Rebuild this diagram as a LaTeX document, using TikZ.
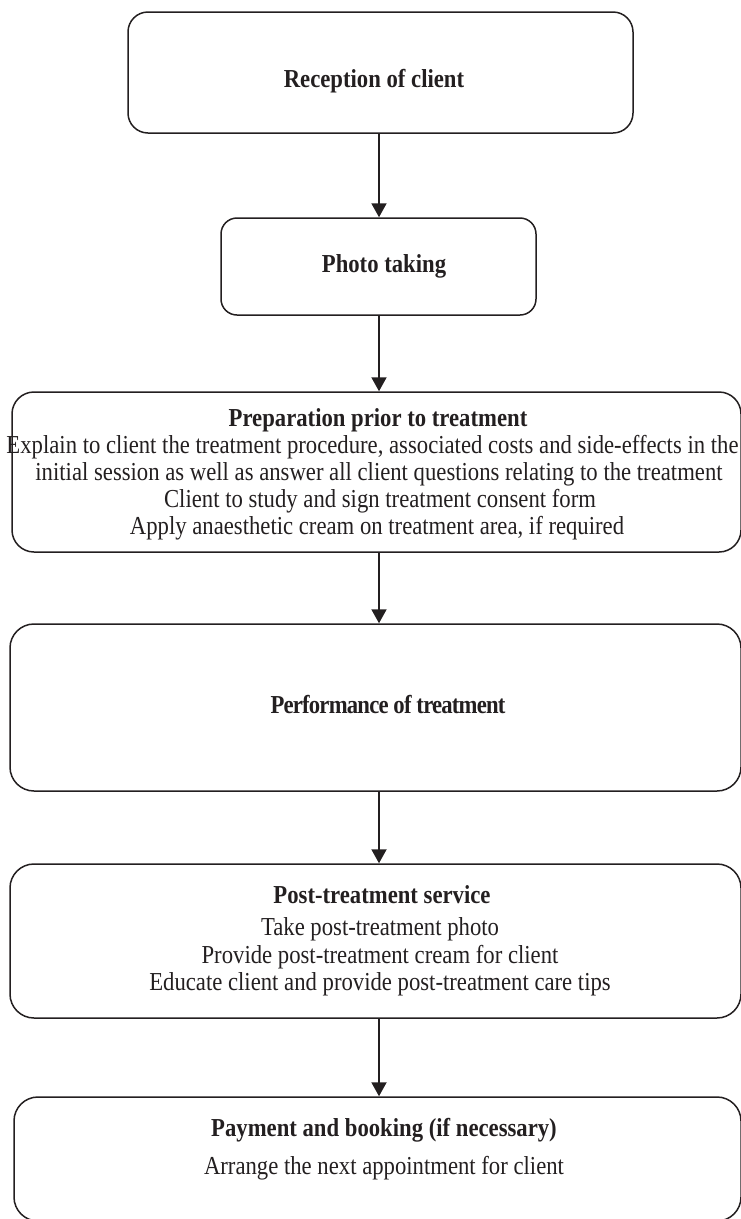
\documentclass[tikz,border=0pt]{standalone}
\usepackage{fontspec}
\setmainfont{Liberation Serif}
\usetikzlibrary{arrows.meta}
\definecolor{ink}{HTML}{231F20}
% slightly tall lettering
\newcommand\vstr[1]{\scalebox{1}[1.14]{#1}}
\tikzset{
  stepbox/.style={draw=ink, line width=1.5pt, rounded corners=#1, inner sep=0pt},
  ttl/.style={font=\fontsize{22.7}{27}\selectfont\bfseries, text=ink, anchor=base, inner sep=0pt},
  txt/.style={font=\fontsize{22.7}{27}\selectfont, text=ink, anchor=base, inner sep=0pt},
  flow/.style={draw=ink, line width=2pt, -{Triangle[width=15pt,length=14pt]}}
}
\begin{document}
\begin{tikzpicture}[x=1pt,y=-1pt]
\useasboundingbox (0,0) rectangle (741,1219);
\coordinate (ax) at (379,0);

% boxes
\node[stepbox=20pt, minimum width=505pt, minimum height=121pt] (b1) at (380.5,72.5) {};
\node[stepbox=16pt, minimum width=315pt, minimum height=97pt]  (b2) at (378.5,266.5) {};
\node[stepbox=22pt, minimum width=729pt, minimum height=160pt] (b3) at (376.5,472) {};
\node[stepbox=24pt, minimum width=731pt, minimum height=167pt] (b4) at (375.5,707.5) {};
\node[stepbox=24pt, minimum width=731pt, minimum height=154pt] (b5) at (375.5,941) {};
\node[stepbox=24pt, minimum width=727pt, minimum height=124pt] (b6) at (377.5,1159) {};

% texts
\node[ttl] (t1) at (374,87) {\vstr{Reception of client}};
\node[ttl] (t2) at (384,272) {\vstr{Photo taking}};

\node[ttl] (t3a) at (378,426) {\vstr{Preparation prior to treatment}};
\node[txt] (t3b) at (372.5,453) {\vstr{Explain to client the treatment procedure, associated costs and side-effects in the}};
\node[txt] (t3c) at (379,480) {\vstr{initial session as well as answer all client questions relating to the treatment}};
\node[txt] (t3d) at (380,507) {\vstr{Client to study and sign treatment consent form}};
\node[txt] (t3e) at (377,534) {\vstr{Apply anaesthetic cream on treatment area, if required}};

\node[ttl, font=\fontsize{22.7}{27}\selectfont\bfseries\addfontfeature{LetterSpace=-3.5}] (t4) at (388,713) {\vstr{Performance of treatment}};

\node[ttl] (t5a) at (382,903) {\vstr{Post-treatment service}};
\node[txt] (t5b) at (380,935) {\vstr{Take post-treatment photo}};
\node[txt] (t5c) at (380,963) {\vstr{Provide post-treatment cream for client}};
\node[txt] (t5d) at (380,990) {\vstr{Educate client and provide post-treatment care tips}};

\node[ttl] (t6a) at (384,1136) {\vstr{Payment and booking (if necessary)}};
\node[txt] (t6b) at (384,1174) {\vstr{Arrange the next appointment for client}};

% connectors
\draw[flow] (b1.south -| ax) -- (b2.north -| ax);
\draw[flow] (b2.south -| ax) -- (b3.north -| ax);
\draw[flow] (b3.south -| ax) -- (b4.north -| ax);
\draw[flow] (b4.south -| ax) -- (b5.north -| ax);
\draw[flow] (b5.south -| ax) -- (b6.north -| ax);
\end{tikzpicture}
\end{document}
